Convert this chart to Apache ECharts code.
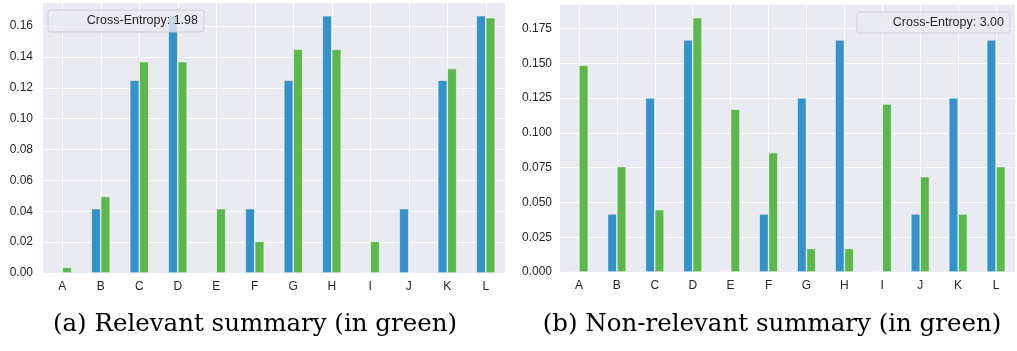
<!DOCTYPE html>
<html>
<head>
<meta charset="utf-8">
<script src="https://cdn.jsdelivr.net/npm/echarts@6/dist/echarts.min.js"></script>
<style>
  html, body { margin: 0; padding: 0; background: #ffffff; }
  #chart { width: 1017px; height: 351px; }
</style>
</head>
<body>
<div id="chart"></div>
<script>
// Categories shared by both panels
const categories = ['A', 'B', 'C', 'D', 'E', 'F', 'G', 'H', 'I', 'J', 'K', 'L'];

// Reference distribution (blue), identical in both panels
const referenceDist = [0, 0.0417, 0.125, 0.1667, 0, 0.0417, 0.125, 0.1667, 0, 0.0417, 0.125, 0.1667];

// Summary distributions (green)
const relevantDist = [0.0036, 0.0496, 0.137, 0.137, 0.0417, 0.0205, 0.145, 0.145, 0.0205, 0, 0.1325, 0.1655];
const nonRelevantDist = [0.1485, 0.0757, 0.0448, 0.1827, 0.117, 0.0858, 0.0169, 0.0169, 0.1207, 0.0685, 0.0417, 0.0757];

// Legend texts and captions
const legendLeft = 'Cross-Entropy: 1.98';
const legendRight = 'Cross-Entropy: 3.00';
const captionLeft = '(a) Relevant summary (in green)';
const captionRight = '(b) Non-relevant summary (in green)';

// Axis limits
const yMaxLeft = 0.175, yStepLeft = 0.02;
const yMaxRight = 0.1918, yStepRight = 0.025;

const BLUE = '#3491c9';
const GREEN = '#5cb74d';
const BG = '#eaeaf2';
const TXT = '#262626';
const SANS = '"Liberation Sans", Arial, sans-serif';

function xAxis(gridIndex) {
  return {
    type: 'category', gridIndex, data: categories,
    axisLine: { show: false }, axisTick: { show: false },
    axisLabel: { color: TXT, fontFamily: SANS, fontSize: 12, margin: 8 },
    splitLine: { show: true, alignWithLabel: true, lineStyle: { color: '#ffffff', width: 1 } }
  };
}
function yAxis(gridIndex, max, step, digits, margin) {
  return {
    type: 'value', gridIndex, min: 0, max, interval: step,
    axisLine: { show: false }, axisTick: { show: false },
    axisLabel: { color: TXT, fontFamily: SANS, fontSize: 12, margin, showMaxLabel: false,
      formatter: v => v.toFixed(digits) },
    splitLine: { show: true, showMaxLine: false, lineStyle: { color: '#ffffff', width: 1 } }
  };
}
function bars(name, data, color, gridIndex) {
  return {
    name, type: 'bar', data, xAxisIndex: gridIndex, yAxisIndex: gridIndex,
    barWidth: '24.5%', barGap: '0%',
    itemStyle: { color, borderColor: 'rgba(255,255,255,0.85)', borderWidth: 0.6 },
    animation: false
  };
}
function legendBox(x, y, w, h, text, textRight) {
  return [
    { type: 'rect', z: 100, zlevel: 1, shape: { x, y, width: w, height: h, r: 3 },
      style: { fill: 'rgba(234,234,242,0.8)', stroke: 'rgba(204,204,204,0.9)', lineWidth: 1 } },
    { type: 'text', z: 101, zlevel: 1, x: textRight, y: y + h / 2,
      style: { text, fill: TXT, font: '12.5px ' + SANS, align: 'right', verticalAlign: 'middle' } }
  ];
}
function caption(cx, y, text) {
  return {
    type: 'text', x: cx, y, z: 100,
    style: { text, fill: '#000000', font: '24.5px "DejaVu Serif", serif', align: 'center', verticalAlign: 'middle' }
  };
}

const chart = echarts.init(document.getElementById('chart'), null, { renderer: 'canvas' });
chart.setOption({
  animation: false,
  backgroundColor: '#ffffff',
  grid: [
    { left: 43, top: 3, width: 462, height: 270, show: true, backgroundColor: BG, borderWidth: 0 },
    { left: 560, top: 5, width: 455, height: 267, show: true, backgroundColor: BG, borderWidth: 0 }
  ],
  xAxis: [xAxis(0), xAxis(1)],
  yAxis: [yAxis(0, yMaxLeft, yStepLeft, 2, 10), yAxis(1, yMaxRight, yStepRight, 3, 8)],
  series: [
    bars('reference', referenceDist, BLUE, 0),
    bars('relevant', relevantDist, GREEN, 0),
    bars('reference', referenceDist, BLUE, 1),
    bars('non-relevant', nonRelevantDist, GREEN, 1)
  ],
  graphic: [
    ...legendBox(48, 10, 156, 22, legendLeft, 198),
    ...legendBox(857, 12, 153, 21, legendRight, 1004),
    caption(255, 325, captionLeft),
    caption(772, 325, captionRight)
  ]
});
</script>
</body>
</html>
